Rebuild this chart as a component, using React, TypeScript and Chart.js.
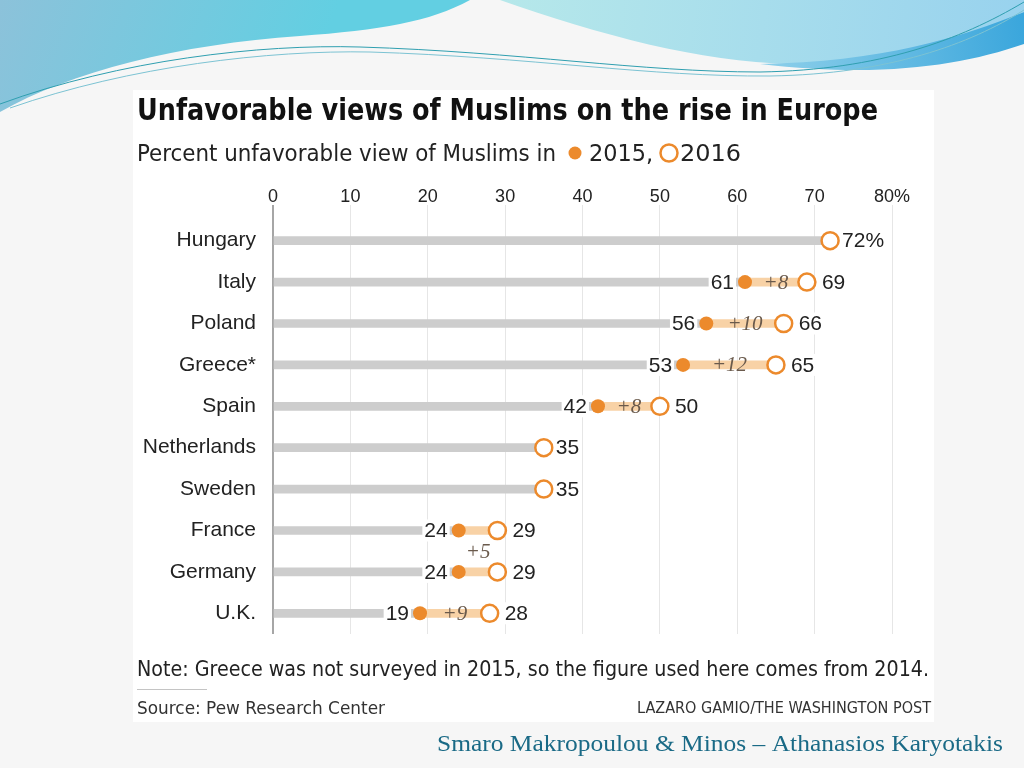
import React, { useEffect, useRef } from 'react';
import { Chart, registerables } from 'chart.js';

Chart.register(...registerables);

// ---------- data ----------
const countries = ['Hungary', 'Italy', 'Poland', 'Greece*', 'Spain', 'Netherlands', 'Sweden', 'France', 'Germany', 'U.K.'];
const values2015: (number | null)[] = [null, 61, 56, 53, 42, null, null, 24, 24, 19];
const values2016: number[] = [72, 69, 66, 65, 50, 35, 35, 29, 29, 28];
const deltaLabels: (string | null)[] = [null, '+8', '+10', '+12', '+8', null, null, '+5', null, '+9'];
const deltaRowShift: number[] = [0, 0, 0, 0, 0, 0, 0, 0.5, 0, 0];
const label2016Suffix: string[] = ['%', '', '', '', '', '', '', '', '', ''];
const xTicks: number[] = [0, 10, 20, 30, 40, 50, 60, 70, 80];

const titleText = 'Unfavorable views of Muslims on the rise in Europe';
const subtitleText = 'Percent unfavorable view of Muslims in';
const legend2015 = '2015,';
const legend2016 = '2016';
const noteText = 'Note: Greece was not surveyed in 2015, so the figure used here comes from 2014.';
const sourceText = 'Source: Pew Research Center';
const creditText = 'LAZARO GAMIO/THE WASHINGTON POST';
const authorsText = 'Smaro Makropoulou & Minos \u2013 Athanasios Karyotakis';

// ---------- styles ----------
const ORANGE = '#ec8a2c';
const ORANGE_LIGHT = '#f8d2a6';
const GRAY_BAR = '#cdcdcd';
const TEXT = '#222222';
const SANS = '"Liberation Sans", Arial, sans-serif';
const NARROW = '"Liberation Sans Narrow", "DejaVu Sans Condensed", "Liberation Sans", Arial, sans-serif';
const SERIF = '"Liberation Serif", "DejaVu Serif", serif';

function fitText(ctx: CanvasRenderingContext2D, text: string, x: number, y: number, width: number, font: string, color: string) {
  ctx.save();
  ctx.font = font;
  ctx.fillStyle = color;
  ctx.textAlign = 'left';
  ctx.textBaseline = 'alphabetic';
  const w = ctx.measureText(text).width;
  ctx.translate(x, y);
  ctx.scale(width / w, 1);
  ctx.fillText(text, 0, 0);
  ctx.restore();
}

const decoPlugin = {
  id: 'deco',
  beforeDraw(chart: any) {
    const ctx: CanvasRenderingContext2D = chart.ctx;
    const W = chart.width;
    const H = chart.height;
    ctx.save();
    // page background
    ctx.fillStyle = '#f6f6f6';
    ctx.fillRect(0, 0, W, H);

    // header: left blue swoosh
    let g = ctx.createLinearGradient(0, 0, 300, 110);
    g.addColorStop(0, '#8cc2da');
    g.addColorStop(1, '#62cfe2');
    ctx.fillStyle = g;
    ctx.beginPath();
    ctx.moveTo(0, 0);
    ctx.lineTo(470, 0);
    ctx.bezierCurveTo(430, 22, 380, 30, 300, 36);
    ctx.bezierCurveTo(180, 44, 70, 72, 0, 112);
    ctx.closePath();
    ctx.fill();

    // right light cyan
    g = ctx.createLinearGradient(500, 0, 1024, 60);
    g.addColorStop(0, '#b6e8ea');
    g.addColorStop(1, '#98d2ee');
    ctx.fillStyle = g;
    ctx.beginPath();
    ctx.moveTo(500, 0);
    ctx.lineTo(1024, 0);
    ctx.lineTo(1024, 12);
    ctx.bezierCurveTo(960, 40, 880, 62, 790, 64);
    ctx.bezierCurveTo(700, 62, 600, 35, 500, 0);
    ctx.closePath();
    ctx.fill();

    // right darker band
    g = ctx.createLinearGradient(760, 60, 1024, 20);
    g.addColorStop(0, '#8fd0ea');
    g.addColorStop(1, '#3aa6dc');
    ctx.fillStyle = g;
    ctx.beginPath();
    ctx.moveTo(760, 64);
    ctx.bezierCurveTo(880, 62, 960, 38, 1024, 12);
    ctx.lineTo(1024, 44);
    ctx.bezierCurveTo(960, 66, 880, 78, 760, 64);
    ctx.closePath();
    ctx.fill();

    // thin lines
    ctx.strokeStyle = '#2f9fb0';
    ctx.lineWidth = 1;
    ctx.beginPath();
    ctx.moveTo(0, 104);
    ctx.bezierCurveTo(120, 60, 260, 44, 360, 47);
    ctx.bezierCurveTo(520, 52, 640, 72, 760, 72);
    ctx.bezierCurveTo(880, 70, 960, 40, 1024, 2);
    ctx.stroke();
    ctx.strokeStyle = '#7cc3d3';
    ctx.beginPath();
    ctx.moveTo(10, 108);
    ctx.bezierCurveTo(130, 66, 270, 50, 370, 52);
    ctx.bezierCurveTo(530, 57, 650, 77, 770, 76);
    ctx.bezierCurveTo(890, 74, 970, 44, 1024, 10);
    ctx.stroke();

    // chart box
    ctx.fillStyle = '#ffffff';
    ctx.fillRect(133, 90, 801, 632);
    ctx.restore();
  },
  afterDraw(chart: any) {
    const ctx: CanvasRenderingContext2D = chart.ctx;
    ctx.save();
    fitText(ctx, titleText, 137, 120, 741, `bold 30px ${NARROW}`, '#111111');
    fitText(ctx, subtitleText, 137, 161, 419, `23px ${NARROW}`, TEXT);
    // legend symbols
    ctx.fillStyle = ORANGE;
    ctx.beginPath();
    ctx.arc(575, 153, 6.5, 0, Math.PI * 2);
    ctx.fill();
    fitText(ctx, legend2015, 589, 161, 64, `23px ${NARROW}`, TEXT);
    ctx.strokeStyle = ORANGE;
    ctx.lineWidth = 2.5;
    ctx.fillStyle = '#ffffff';
    ctx.beginPath();
    ctx.arc(669, 153, 8.5, 0, Math.PI * 2);
    ctx.fill();
    ctx.stroke();
    fitText(ctx, legend2016, 680, 161, 61, `23px ${NARROW}`, TEXT);

    // notes
    fitText(ctx, noteText, 137, 676, 792, `22px ${NARROW}`, TEXT);
    ctx.strokeStyle = '#c4c4c4';
    ctx.lineWidth = 1;
    ctx.beginPath();
    ctx.moveTo(137, 689.5);
    ctx.lineTo(207, 689.5);
    ctx.stroke();
    fitText(ctx, sourceText, 137, 714, 248, `18px ${NARROW}`, '#333333');
    fitText(ctx, creditText, 637, 713, 294, `15px ${NARROW}`, '#333333');
    fitText(ctx, authorsText, 437, 751, 566, `23px ${SERIF}`, '#1a6a86');
    ctx.restore();
  },
};

const labelsPlugin = {
  id: 'valueLabels',
  afterDatasetsDraw(chart: any) {
    const ctx: CanvasRenderingContext2D = chart.ctx;
    const xs = chart.scales.x;
    const ys = chart.scales.y;
    ctx.save();
    ctx.textBaseline = 'middle';
    countries.forEach((_, i) => {
      const y = ys.getPixelForValue(i);
      const v15 = values2015[i];
      const v16 = values2016[i];
      ctx.font = `21px ${SANS}`;
      if (v15 !== null) {
        const p = xs.getPixelForValue(v15);
        const t = String(v15);
        const w = ctx.measureText(t).width;
        const xr = p - 11;
        ctx.fillStyle = '#ffffff';
        ctx.fillRect(xr - w - 2, y - 11, w + 4, 22);
        ctx.fillStyle = TEXT;
        ctx.textAlign = 'right';
        ctx.fillText(t, xr, y + 1);
      }
      {
        const p = xs.getPixelForValue(v16);
        const t = String(v16) + label2016Suffix[i];
        const w = ctx.measureText(t).width;
        const xl = p + (v15 !== null ? 15 : 12);
        ctx.fillStyle = '#ffffff';
        ctx.fillRect(xl - 2, y - 11, w + 4, 22);
        ctx.fillStyle = TEXT;
        ctx.textAlign = 'left';
        ctx.fillText(t, xl, y + 1);
      }
      const d = deltaLabels[i];
      if (d && v15 !== null) {
        const mid = (xs.getPixelForValue(v15) + xs.getPixelForValue(v16)) / 2;
        const yy = ys.getPixelForValue(i + deltaRowShift[i]);
        ctx.font = `italic 21px ${SERIF}`;
        ctx.fillStyle = '#6a5a4c';
        ctx.textAlign = 'center';
        ctx.fillText(d, mid, yy + 1);
      }
    });
    ctx.restore();
  },
};

export default function App() {
  const ref = useRef<HTMLCanvasElement | null>(null);

  useEffect(() => {
    if (!ref.current) return;
    const baseValues = values2016.map((v, i) => (values2015[i] !== null ? (values2015[i] as number) : v));
    const chart = new Chart(ref.current, {
      type: 'bar',
      data: {
        labels: countries,
        datasets: [
          {
            type: 'bar',
            label: 'base',
            data: baseValues.map((v) => [0, v]) as any,
            backgroundColor: GRAY_BAR,
            barThickness: 8,
            grouped: false,
            borderWidth: 0,
            order: 4,
          } as any,
          {
            type: 'bar',
            label: 'change',
            data: values2015.map((v, i) => (v === null ? null : [v, values2016[i]])) as any,
            backgroundColor: ORANGE_LIGHT,
            barThickness: 8,
            grouped: false,
            borderWidth: 0,
            order: 3,
          } as any,
          {
            type: 'line',
            label: '2015',
            data: values2015 as any,
            indexAxis: 'y',
            showLine: false,
            pointRadius: 7,
            pointBackgroundColor: ORANGE,
            pointBorderWidth: 0,
            borderColor: ORANGE,
            order: 2,
          } as any,
          {
            type: 'line',
            label: '2016',
            data: values2016 as any,
            indexAxis: 'y',
            showLine: false,
            pointRadius: 8.5,
            pointBackgroundColor: '#ffffff',
            pointBorderColor: ORANGE,
            pointBorderWidth: 2.5,
            borderColor: ORANGE,
            order: 1,
          } as any,
        ],
      },
      options: {
        responsive: false,
        animation: false,
        indexAxis: 'y',
        layout: { padding: { left: 0, top: 0, right: 132, bottom: 134 } },
        plugins: {
          legend: { display: false },
          tooltip: { enabled: false },
          title: { display: false },
        },
        scales: {
          x: {
            type: 'linear',
            position: 'top',
            min: 0,
            max: 80,
            afterFit: (s: any) => {
              s.height = 220;
            },
            afterBuildTicks: (s: any) => {
              s.ticks = xTicks.map((v) => ({ value: v }));
            },
            ticks: {
              padding: -3,
              color: TEXT,
              font: { family: SANS, size: 18 },
              callback: (v: any) => (Number(v) === 80 ? '80%' : String(v)),
            },
            border: { display: false },
            grid: {
              drawTicks: true,
              tickLength: 15,
              color: (c: any) => (c.tick && c.tick.value === 0 ? '#a6a6a6' : '#e6e6e6'),
              lineWidth: (c: any) => (c.tick && c.tick.value === 0 ? 2 : 1),
            },
          },
          y: {
            type: 'category',
            afterFit: (s: any) => {
              s.width = 273;
            },
            ticks: {
              padding: 17,
              color: TEXT,
              font: { family: SANS, size: 21 },
            },
            border: { display: false },
            grid: { display: false, drawTicks: false },
          },
        },
      } as any,
      plugins: [decoPlugin, labelsPlugin],
    });
    return () => chart.destroy();
  }, []);

  return (
    <div style={{ position: 'fixed', left: 0, top: 0, width: 1024, height: 768 }}>
      <canvas ref={ref} width={1024} height={768} style={{ display: 'block', width: 1024, height: 768 }} />
    </div>
  );
}
